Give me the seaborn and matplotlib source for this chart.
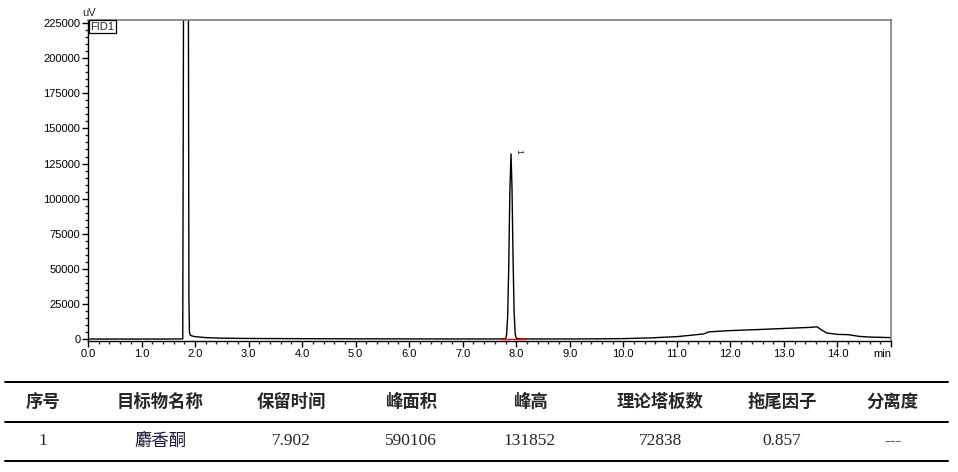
import numpy as np
import matplotlib
matplotlib.use('Agg')
import matplotlib.pyplot as plt
from matplotlib.lines import Line2D
from matplotlib.ticker import MultipleLocator
import seaborn as sns

# chromatogram trace (min, uV)
time_min = [0.00, 0.50, 1.00, 1.50, 1.77, 1.785, 1.875, 1.885, 1.895, 1.91, 1.95,
            2.00, 2.20, 2.50, 3.00, 4.00, 5.00, 6.00, 7.00, 7.70, 7.80,
            7.82, 7.84, 7.86, 7.88, 7.902, 7.92, 7.94, 7.96, 7.98, 8.00, 8.10,
            9.00, 9.50, 10.00, 10.50, 11.00, 11.50, 11.60, 12.00, 12.50, 13.00, 13.50,
            13.62, 13.70, 13.80, 14.00, 14.20, 14.40, 14.60, 15.00]
signal_uv = [300, 300, 300, 300, 400, 250000, 250000, 30000, 5000, 3000, 2400,
             2000, 1300, 900, 700, 550, 450, 400, 350, 350, 450,
             3500, 17000, 53000, 105000, 131852, 108000, 58000, 19000, 4000, 700, 350,
             350, 450, 600, 1100, 2000, 3900, 5400, 6300, 7000, 7800, 8600,
             9000, 6800, 4600, 3600, 3400, 2200, 1700, 1300]

# integration baseline of peak 1
base_t = [7.72, 8.19]
base_uv = [350, 350]

x_ticks = list(range(0, 16))
x_labels = ['%.1f' % v for v in range(0, 15)] + ['min']
y_ticks = list(range(0, 225001, 25000))

# result table
headers = ['序号', '目标物名称', '保留时间', '峰面积', '峰高', '理论塔板数', '拖尾因子', '分离度']
row = ['1', '麝香酮', '7.902', '590106', '131852', '72838', '0.857', '---']
col_x = [43, 160, 291, 411, 530, 660, 782, 893]

sns.set_style('white')
plt.rcParams['font.family'] = ['Liberation Sans', 'DejaVu Sans']

fig = plt.figure(figsize=(9.58, 4.72), dpi=100)
W, H = 958, 472
ax = fig.add_axes([88 / W, 1 - 341 / H, 803 / W, 321 / H])

sns.lineplot(x=time_min, y=signal_uv, ax=ax, color='black', linewidth=1.0,
             estimator=None, sort=False)
ax.plot(base_t, base_uv, color='red', linewidth=1.0)

ax.set_xlim(0, 15)
ax.set_ylim(-1100, 227000)
ax.set_xticks(x_ticks)
ax.set_xticklabels(x_labels)
ax.get_xticklabels()[-1].set_horizontalalignment('right')
ax.set_yticks(y_ticks)
ax.set_yticklabels([str(v) for v in y_ticks])
ax.xaxis.set_minor_locator(MultipleLocator(0.2))
ax.yaxis.set_minor_locator(MultipleLocator(5000))
ax.tick_params(axis='both', which='major', direction='out', length=4, width=1,
               labelsize=8, colors='black', pad=1.5, bottom=True, left=True)
ax.tick_params(axis='both', which='minor', direction='out', length=2.5, width=1,
               bottom=True, left=True)
ax.set_xlabel('')
ax.set_ylabel('')

for side in ['left', 'bottom']:
    ax.spines[side].set_color('black')
    ax.spines[side].set_linewidth(1.0)
for side in ['top', 'right']:
    ax.spines[side].set_color('#7f7f7f')
    ax.spines[side].set_linewidth(1.2)

ax.text(0.003, 0.995, 'FID1', transform=ax.transAxes, ha='left', va='top',
        fontsize=8, bbox=dict(boxstyle='square,pad=0.1', fc='white', ec='black', lw=0.9))
ax.text(7.96, 133500, '1', rotation=-90, ha='left', va='center', fontsize=6.5)
fig.text(89 / W, 1 - 13 / H, 'uV', ha='center', va='center', fontsize=8)

# table lines
for yy in [382, 422, 461]:
    fig.add_artist(Line2D([5 / W, 948 / W], [1 - yy / H, 1 - yy / H],
                          color='black', linewidth=1.4))

for cx, h in zip(col_x, headers):
    fig.text(cx / W, 1 - 402 / H, h, ha='center', va='center', fontsize=12.5,
             fontweight='bold', family=['Noto Sans CJK SC', 'DejaVu Sans'])
for cx, v in zip(col_x, row):
    if v == '麝香酮':
        fig.text(cx / W, 1 - 441 / H, v, ha='center', va='center', fontsize=12.5,
                 color='#1a1a3a', family=['Noto Sans CJK SC', 'DejaVu Sans'])
    else:
        fig.text(cx / W, 1 - 441 / H, v, ha='center', va='center', fontsize=12.5,
                 family=['Liberation Serif', 'DejaVu Serif'])

fig.savefig('out.png', dpi=100)
